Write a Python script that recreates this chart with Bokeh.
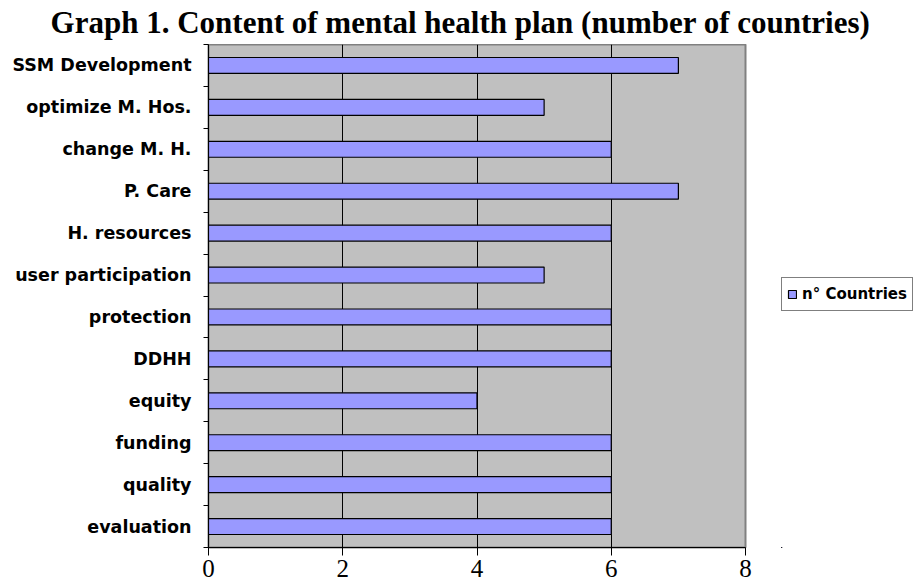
from bokeh.plotting import figure
from bokeh.layouts import row, column
from bokeh.models import (FixedTicker, Legend, LegendItem, Range1d, Label,
                          ColumnDataSource)
from bokeh.embed import file_html
from bokeh.resources import INLINE

categories = ["SSM Development", "optimize M. Hos.", "change M. H.", "P. Care",
              "H. resources", "user participation", "protection", "DDHH",
              "equity", "funding", "quality", "evaluation"]
values = [7, 5, 6, 7, 6, 5, 6, 6, 4, 6, 6, 6]
x_ticks = [0, 2, 4, 6, 8]
series_name = "n° Countries"
title_text = "Graph 1. Content of mental health plan (number of countries)"

n = len(categories)
ypos = [n - i - 0.5 for i in range(n)]
boundaries = list(range(n + 1))
source = ColumnDataSource(dict(y=ypos, right=values, cat=categories))

BAR_FILL = "#9999FF"

# ---- title strip ----
tf = figure(width=920, height=44, output_backend="svg", toolbar_location=None,
            x_axis_type=None, y_axis_type=None,
            x_range=Range1d(0, 920), y_range=Range1d(0, 44),
            min_border_left=0, min_border_right=0, min_border_top=0,
            min_border_bottom=0)
tf.outline_line_color = None
tf.grid.visible = False
tf.background_fill_color = "white"
tf.add_layout(Label(x=460, y=22, text=title_text, text_align="center",
                    text_baseline="middle", text_font="Liberation Serif",
                    text_font_size="31px", text_font_style="bold",
                    text_color="black"))

# ---- main chart ----
p = figure(width=781, height=543, output_backend="svg", toolbar_location=None,
           x_range=Range1d(0, 8), y_range=Range1d(0, n),
           min_border_left=208, min_border_right=36, min_border_top=0,
           min_border_bottom=40)

p.background_fill_color = "#C0C0C0"
p.border_fill_color = "white"
p.outline_line_color = "#808080"
p.outline_line_width = 2

r = p.hbar(y="y", right="right", left=0, height=0.38, source=source,
           fill_color=BAR_FILL, line_color="black", line_width=1.2)

p.ygrid.visible = False
p.xgrid.ticker = FixedTicker(ticks=[2, 4, 6])
p.xgrid.grid_line_color = "black"
p.xgrid.grid_line_width = 1

p.xaxis.ticker = FixedTicker(ticks=x_ticks)
p.xaxis.axis_line_color = "black"
p.xaxis.major_tick_out = 8
p.xaxis.major_tick_in = 0
p.xaxis.minor_tick_line_color = None
p.xaxis.major_label_text_font = "Liberation Serif"
p.xaxis.major_label_text_font_size = "25px"
p.xaxis.major_label_text_color = "black"
p.xaxis.major_label_standoff = 4

p.yaxis.ticker = FixedTicker(ticks=ypos, minor_ticks=boundaries)
p.yaxis.major_label_overrides = {y: c for y, c in zip(ypos, categories)}
p.yaxis.major_tick_out = 0
p.yaxis.major_tick_in = 0
p.yaxis.minor_tick_out = 5
p.yaxis.minor_tick_in = 0
p.yaxis.minor_tick_line_color = "black"
p.yaxis.axis_line_color = "black"
p.yaxis.major_label_text_font = "DejaVu Sans"
p.yaxis.major_label_text_font_style = "bold"
p.yaxis.major_label_text_font_size = "17.5px"
p.yaxis.major_label_text_color = "black"
p.yaxis.major_label_standoff = 12

# ---- legend strip (same data; its ranges keep the bars out of view) ----
lp = figure(width=139, height=543, output_backend="svg", toolbar_location=None,
            x_axis_type=None, y_axis_type=None,
            x_range=Range1d(100, 101), y_range=Range1d(100, 101),
            min_border_left=0, min_border_right=0, min_border_top=0,
            min_border_bottom=0)
lp.outline_line_color = None
lp.grid.visible = False
lp.background_fill_color = "white"
lr = lp.hbar(y="y", right="right", left=0, height=0.38, source=source,
             fill_color=BAR_FILL, line_color="black", line_width=1.2)

legend = Legend(items=[LegendItem(label=series_name, renderers=[lr])],
                location=(0, 236), orientation="vertical",
                border_line_color="black", border_line_width=1,
                background_fill_color="white", background_fill_alpha=1,
                label_text_font="DejaVu Sans", label_text_font_style="bold",
                label_text_font_size="15px", label_text_color="black",
                glyph_width=10, glyph_height=10, padding=5, spacing=0,
                label_standoff=5, margin=0, label_height=22)
lp.add_layout(legend, "center")

layout = column(tf, row(p, lp))
open("out.html", "w").write(file_html(layout, INLINE))
